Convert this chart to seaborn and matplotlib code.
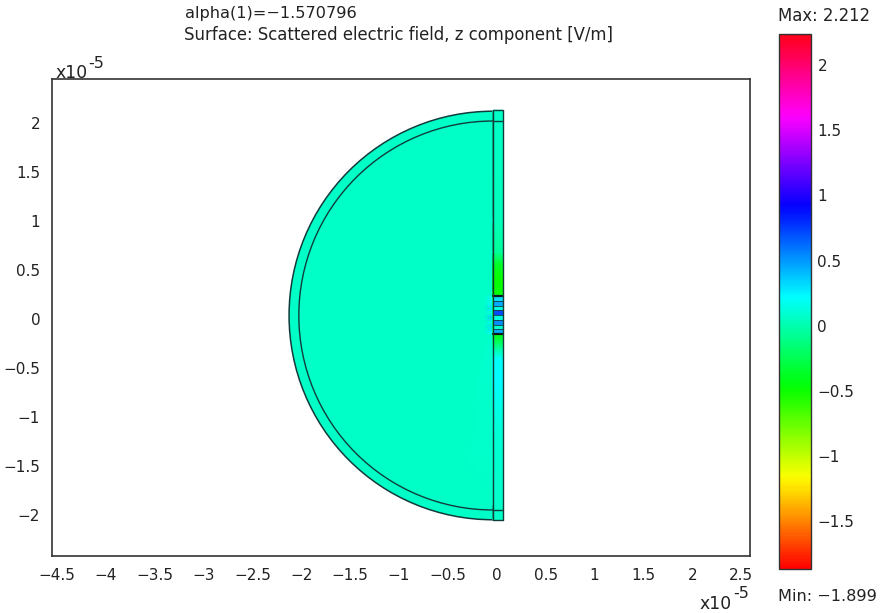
import numpy as np
import matplotlib
matplotlib.use('Agg')
import matplotlib.pyplot as plt
from matplotlib.cm import ScalarMappable
from matplotlib.colors import Normalize
from matplotlib.patches import Arc, Wedge
from matplotlib.transforms import ScaledTranslation
import seaborn as sns

W, H = 881, 613

# colour scale
FIELD_MIN = -1.899
FIELD_MAX = 2.212
BACKGROUND_FIELD = 0.03

# axes ticks (units of 1e-5 m)
x_ticks = [-4.5, -4, -3.5, -3, -2.5, -2, -1.5, -1, -0.5, 0, 0.5, 1, 1.5, 2, 2.5]
x_labels = ['\u22124.5', '\u22124', '\u22123.5', '\u22123', '\u22122.5', '\u22122', '\u22121.5', '\u22121',
            '\u22120.5', '0', '0.5', '1', '1.5', '2', '2.5']
y_ticks = [-2, -1.5, -1, -0.5, 0, 0.5, 1, 1.5, 2]
y_labels = ['\u22122', '\u22121.5', '\u22121', '\u22120.5', '0', '0.5', '1', '1.5', '2']
bar_ticks = [-1.5, -1, -0.5, 0, 0.5, 1, 1.5, 2]
bar_labels = ['\u22121.5', '\u22121', '\u22120.5', '0', '0.5', '1', '1.5', '2']

# half disc and the layer around it
center_x = -0.04
center_y = 0.035
outer_radius = 2.085
inner_radius = 1.985

# thin strip on the right of the disc
strip_x = [-0.04, 0.06]
strip_y = [-2.05, -1.6, -1.2, -0.95, -0.6, -0.4, -0.28, -0.18, -0.153,
           0.235, 0.27, 0.42, 0.56, 0.68, 1.0, 2.13]
strip_field = [0.03, 0.05, 0.07, 0.12, 0.2, 0.17, -0.12, -0.42, -0.45,
               -0.45, -0.5, -0.52, -0.4, -0.1, 0.0, 0.03]

# grating in the middle of the strip
grating_edges = [-0.153, -0.105, -0.057, -0.009, 0.039, 0.087, 0.135, 0.187, 0.235]
grating_field = [0.42, 0.05, 0.5, 0.1, 0.68, 0.1, 0.42, 0.28]

# glow just left of the grating
glow_x = [-0.13, -0.04]
glow_y = [-0.153, -0.081, -0.033, 0.015, 0.063, 0.111, 0.161, 0.235]
glow_field = [0.2, 0.3, 0.12, 0.36, 0.12, 0.3, 0.2, 0.15]

# faint fan of mesh below the grating
fan_x = [-0.04, -0.04, -0.2, -0.04, -0.42, -0.04, -0.28, -0.14]
fan_y = [-0.15, -0.6, -0.5, -1.1, -1.6, -1.9, -1.0, -0.55]
fan_field = [0.07, 0.06, 0.035, 0.045, 0.03, 0.03, 0.04, 0.05]

EDGE = '#103c3c'
FONT = 11

sns.set_theme(style='white')
plt.rcParams['font.family'] = ['DejaVu Sans']
plt.rcParams['text.color'] = '#222222'
plt.rcParams['xtick.color'] = '#222222'
plt.rcParams['ytick.color'] = '#222222'


def box(left, top, right, bottom):
    return [left / W, 1 - bottom / H, (right - left) / W, (bottom - top) / H]


def put(x, y, text, size=FONT):
    return fig.text(x / W, 1 - y / H, text, ha='left', va='baseline', fontsize=size)


fig = plt.figure(figsize=(W / 100, H / 100), dpi=100)
ax = fig.add_axes(box(52, 79, 750, 556))
cax = fig.add_axes(box(778.5, 33.5, 810.5, 569))

norm = Normalize(FIELD_MIN, FIELD_MAX)
cmap = plt.get_cmap('hsv')
bg = cmap(norm(BACKGROUND_FIELD))

# disc
ax.add_patch(Wedge((center_x, center_y), outer_radius, 90, 270, facecolor=bg, edgecolor=EDGE, lw=1.1, zorder=1))
ax.add_patch(Arc((center_x, center_y), 2 * inner_radius, 2 * inner_radius, theta1=90, theta2=270,
                 color=EDGE, lw=1.0, zorder=5))

# fan below the grating
ax.tripcolor(fan_x, fan_y, fan_field, shading='gouraud', cmap=cmap, norm=norm, zorder=2)

# glow next to the grating
glow = np.array([[BACKGROUND_FIELD] * len(glow_field), glow_field]).T
ax.pcolormesh(glow_x, glow_y, glow, shading='gouraud', cmap=cmap, norm=norm, zorder=2)

# strip field
field = np.array([strip_field, strip_field]).T
ax.pcolormesh(strip_x, strip_y, field, shading='gouraud', cmap=cmap, norm=norm, zorder=3)

# grating bands
bands = np.array(grating_field).reshape(-1, 1)
ax.pcolormesh(strip_x, grating_edges, bands, shading='flat', cmap=cmap, norm=norm, zorder=4)

# outlines
for y in grating_edges[1:-1]:
    sns.lineplot(x=strip_x, y=[y, y], color=EDGE, lw=0.6, ax=ax, zorder=5)
for y in (grating_edges[0], grating_edges[-1]):
    sns.lineplot(x=strip_x, y=[y, y], color='#0a1a1a', lw=1.6, ax=ax, zorder=5)

top_inner = center_y + inner_radius
bottom_inner = center_y - inner_radius
for y in (top_inner, bottom_inner, strip_y[0], strip_y[-1]):
    sns.lineplot(x=strip_x, y=[y, y], color=EDGE, lw=1.0, ax=ax, zorder=5)
for x in strip_x:
    ax.vlines(x, strip_y[0], strip_y[-1], color=EDGE, lw=1.0, zorder=5)

ax.set_xlim(-4.55, 2.59)
ax.set_ylim(-2.42, 2.449)
ax.set_xticks(x_ticks, x_labels)
ax.set_yticks(y_ticks, y_labels)
ax.tick_params(length=0, pad=8.5, labelsize=FONT)
ax.set_xlabel('')
ax.set_ylabel('')
for s in ax.spines.values():
    s.set_color('#333333')
    s.set_linewidth(1.2)

# colour bar
cb = fig.colorbar(ScalarMappable(norm=norm, cmap=cmap), cax=cax)
cb.set_ticks(bar_ticks, labels=bar_labels)
cax.tick_params(left=True, right=True, direction='in', length=5, width=0.9, color='#222222', pad=5, labelsize=FONT)
cb.outline.set_edgecolor('#333333')
cb.outline.set_linewidth(1.0)
shift = ScaledTranslation(0, -4 / 100, fig.dpi_scale_trans)
for lab in cax.get_yticklabels():
    lab.set_transform(lab.get_transform() + shift)

# titles and exponents
put(185, 18, 'alpha(1)=\u22121.570796', 11.6)
put(184, 40, 'Surface: Scattered electric field, z component [V/m]', 11.9)
put(778, 21, 'Max: 2.212', 11.9)
put(778, 601, 'Min: \u22121.899', 11.6)
put(55, 78, 'x10', 12.4)
put(88, 68, '-5', 11.5)
put(700, 609, 'x10', 12.4)
put(733, 598, '-5', 11.5)

fig.savefig('out.png', dpi=100)
